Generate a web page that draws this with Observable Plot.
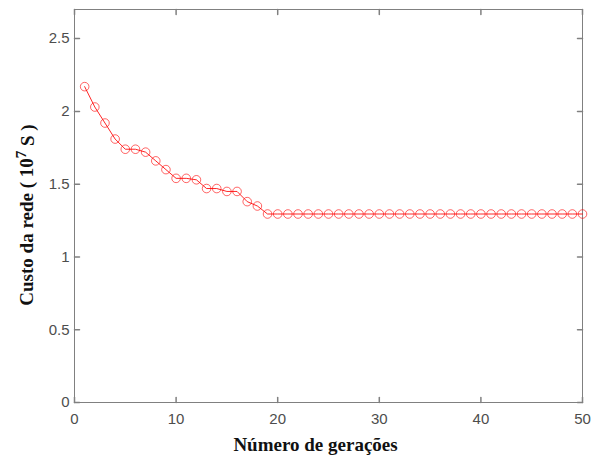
<!DOCTYPE html>
<html><head><meta charset="utf-8">
<script src="https://cdn.jsdelivr.net/npm/d3@7"></script>
<script src="https://cdn.jsdelivr.net/npm/@observablehq/plot@0.6"></script>
<style>body{margin:0;background:#fff}</style>
</head><body><div id="chart"></div>
<script>
const generations = [1,2,3,4,5,6,7,8,9,10,11,12,13,14,15,16,17,18,19,20,21,22,23,24,25,26,27,28,29,30,31,32,33,34,35,36,37,38,39,40,41,42,43,44,45,46,47,48,49,50];
const costs = [2.17,2.03,1.92,1.81,1.74,1.74,1.72,1.66,1.60,1.54,1.54,1.53,1.47,1.47,1.45,1.45,1.38,1.35,
  1.295,1.295,1.295,1.295,1.295,1.295,1.295,1.295,1.295,1.295,1.295,1.295,1.295,1.295,1.295,1.295,1.295,1.295,
  1.295,1.295,1.295,1.295,1.295,1.295,1.295,1.295,1.295,1.295,1.295,1.295,1.295,1.295];
const xTicks = [0,10,20,30,40,50];
const yTicks = [0,0.5,1,1.5,2,2.5];
const xLabel = "Número de gerações";
const yLabelParts = ["Custo da rede ( 10", "7", " S )"];

const data = generations.map((g,i) => ({g, c: costs[i]}));
const tickShape = {draw(ctx, l){ ctx.moveTo(0,0); ctx.lineTo(0,-l); }};
const axisCol = "#808080";
const serif = "'Liberation Serif', 'Times New Roman', serif";

const plot = Plot.plot({
  width: 592, height: 459,
  marginLeft: 74, marginRight: 10, marginTop: 9, marginBottom: 57,
  style: {fontFamily: "'Liberation Sans', Arial, sans-serif", background: "#fff"},
  x: {domain: [0,50]},
  y: {domain: [0,2.7]},
  marks: [
    Plot.frame({stroke: axisCol, strokeWidth: 1}),
    Plot.vector(xTicks, {x: d=>d, y: 0, length: 5, rotate: 0, anchor: "start", shape: tickShape, stroke: axisCol}),
    Plot.vector(xTicks, {x: d=>d, y: 2.7, length: 5, rotate: 180, anchor: "start", shape: tickShape, stroke: axisCol}),
    Plot.vector(yTicks, {x: 0, y: d=>d, length: 5, rotate: 90, anchor: "start", shape: tickShape, stroke: axisCol}),
    Plot.vector(yTicks, {x: 50, y: d=>d, length: 5, rotate: 270, anchor: "start", shape: tickShape, stroke: axisCol}),
    Plot.axisX({ticks: xTicks, tickSize: 0, tickPadding: 11, tickFormat: d=>`${d}`, fontSize: 15, fill: "#4d4d4d", label: null}),
    Plot.axisY({ticks: yTicks, tickSize: 0, tickPadding: 5, tickFormat: d=>`${d}`, fontSize: 15, fill: "#4d4d4d", label: null}),
    Plot.line(data, {x: "g", y: "c", stroke: "#ff0000", strokeWidth: 1, strokeOpacity: 0.85}),
    Plot.dot(data, {x: "g", y: "c", r: 4.3, stroke: "#ff0000", strokeWidth: 1, strokeOpacity: 0.6, fill: "none"}),
    Plot.text([xLabel], {frameAnchor: "bottom", text: d=>d, dx: -13, dy: 48, lineAnchor: "bottom", fontFamily: serif, fontWeight: "bold", fontSize: 19, fill: "#111"}),
    Plot.text([yLabelParts.join("")], {frameAnchor: "left", text: d=>d, dx: -48, dy: 9, rotate: -90, textAnchor: "middle", fontFamily: serif, fontWeight: "bold", fontSize: 19, fill: "#111", className: "ylab"})
  ]
});
document.getElementById("chart").append(plot);
// superscript exponent in the y label
const t = d3.select(plot).select(".ylab text");
t.text(null);
t.append("tspan").text(yLabelParts[0]);
t.append("tspan").attr("dy", "-0.45em").attr("font-size", "15").text(yLabelParts[1]);
t.append("tspan").attr("dy", "0.45em").text(yLabelParts[2]);
</script></body></html>
